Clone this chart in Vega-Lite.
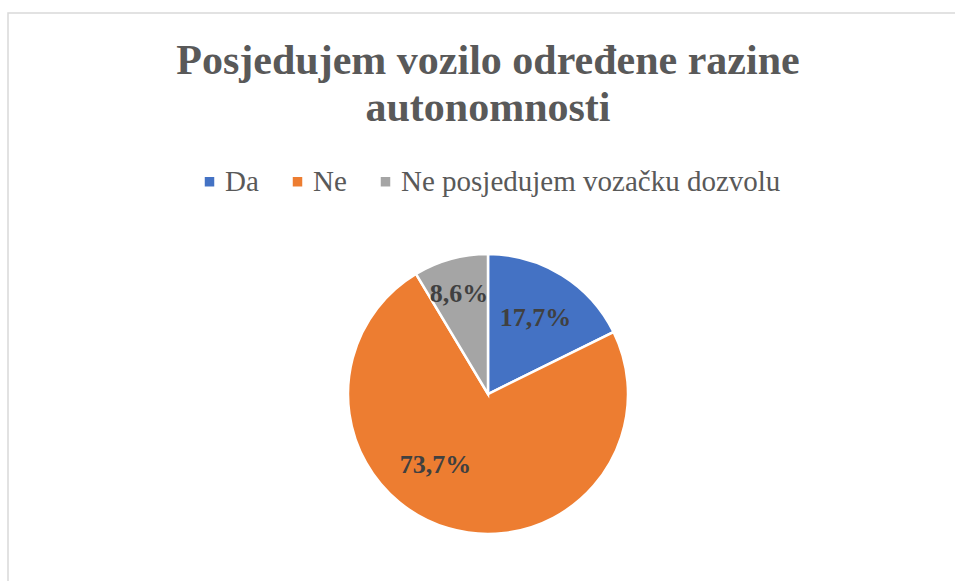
{
  "$schema": "https://vega.github.io/schema/vega-lite/v6.json",
  "autosize": "none",
  "width": 960,
  "height": 762,
  "padding": {"left": 8, "top": 13, "right": 0, "bottom": 0},
  "background": "white",
  "view": {"stroke": "#d9d9d9", "strokeWidth": 1.5, "fill": "white"},
  "title": {
    "text": ["Posjedujem vozilo određene razine", "autonomnosti"],
    "anchor": "middle",
    "font": "Liberation Serif",
    "fontSize": 42,
    "fontWeight": "bold",
    "color": "#595959",
    "lineHeight": 47,
    "offset": 0,
    "dy": 117
  },
  "data": {
    "values": [
      {"kategorija": "Da", "udio": 0.177},
      {"kategorija": "Ne", "udio": 0.737},
      {"kategorija": "Ne posjedujem vozačku dozvolu", "udio": 0.086}
    ]
  },
  "encoding": {
    "theta": {"field": "udio", "type": "quantitative", "stack": true},
    "order": {"field": "kategorija", "type": "nominal"},
    "color": {
      "field": "kategorija",
      "type": "nominal",
      "scale": {
        "domain": ["Da", "Ne", "Ne posjedujem vozačku dozvolu"],
        "range": ["#4472C4", "#ED7D31", "#A5A5A5"]
      },
      "legend": {
        "title": null,
        "orient": "none",
        "direction": "horizontal",
        "legendX": 187,
        "legendY": 154,
        "padding": 0,
        "symbolType": "square",
        "symbolSize": 90,
        "symbolStrokeWidth": 0,
        "symbolOpacity": 1,
        "labelFont": "Liberation Serif",
        "labelFontSize": 29,
        "labelFontWeight": "normal",
        "labelColor": "#595959",
        "labelOffset": 1,
        "labelLimit": 0,
        "columnPadding": 24
      }
    }
  },
  "layer": [
    {
      "mark": {"type": "arc", "outerRadius": 140, "stroke": "white", "strokeWidth": 2.5}
    },
    {
      "mark": {
        "type": "text", "radius": 90, "font": "Liberation Serif", "fontSize": 26,
        "fontWeight": "bold", "align": "center", "baseline": "middle"
      },
      "encoding": {
        "text": {
          "condition": {"test": "datum.kategorija === 'Da'", "field": "udio", "type": "quantitative", "format": ".1%"},
          "value": ""
        },
        "color": {"value": "#404040"}
      }
    },
    {
      "mark": {
        "type": "text", "radius": 90, "font": "Liberation Serif", "fontSize": 26,
        "fontWeight": "bold", "align": "center", "baseline": "middle", "dx": -27, "dy": -15
      },
      "encoding": {
        "text": {
          "condition": {"test": "datum.kategorija === 'Ne'", "field": "udio", "type": "quantitative", "format": ".1%"},
          "value": ""
        },
        "color": {"value": "#404040"}
      }
    },
    {
      "mark": {
        "type": "text", "radius": 90, "font": "Liberation Serif", "fontSize": 26,
        "fontWeight": "bold", "align": "center", "baseline": "middle", "dx": -5, "dy": -13
      },
      "encoding": {
        "text": {
          "condition": {"test": "datum.kategorija === 'Ne posjedujem vozačku dozvolu'", "field": "udio", "type": "quantitative", "format": ".1%"},
          "value": ""
        },
        "color": {"value": "#404040"}
      }
    }
  ],
  "config": {
    "font": "Liberation Serif",
    "legend": {"labelFont": "Liberation Serif"},
    "locale": {
      "number": {"decimal": ",", "thousands": ".", "grouping": [3], "currency": ["", " €"]}
    }
  }
}
